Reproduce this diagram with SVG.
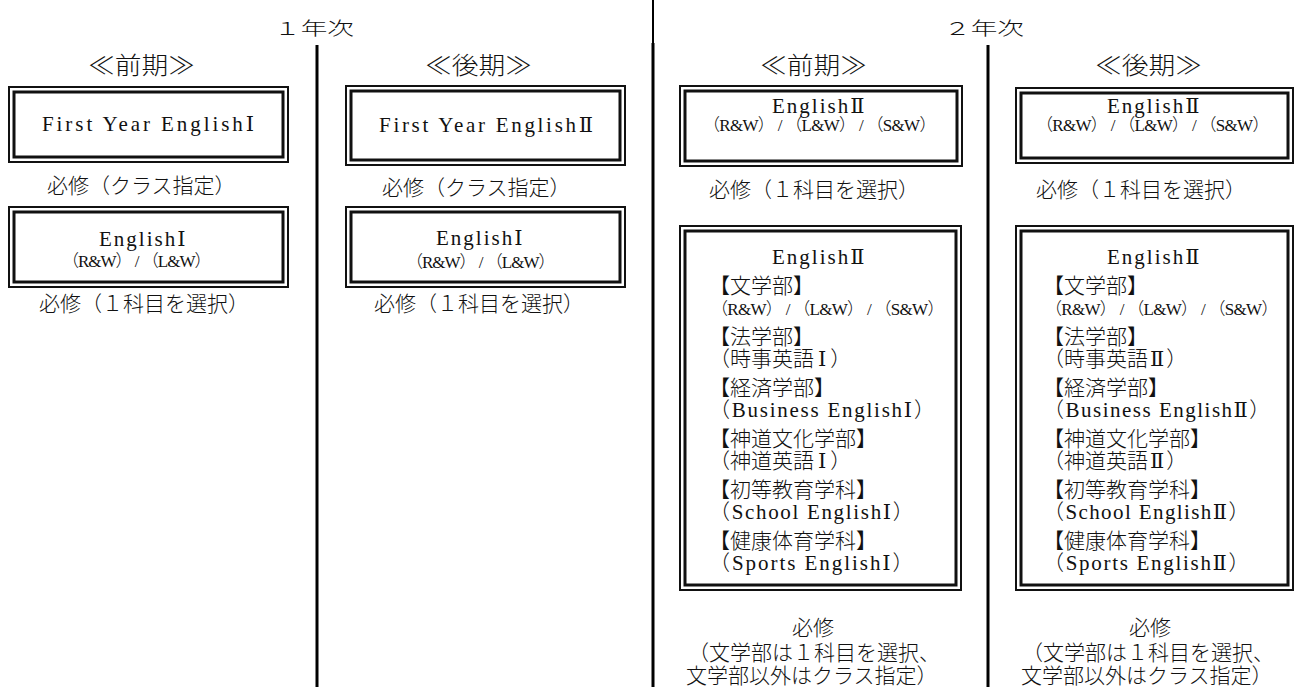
<svg xmlns="http://www.w3.org/2000/svg" width="1295" height="687" viewBox="0 0 1295 687">
<style>
.t{font-family:"Noto Sans CJK JP",sans-serif;font-size:21px;font-weight:300;fill:#111}
.l{font-family:"Liberation Serif","DejaVu Serif","Noto Sans CJK JP",serif}
.s{font-size:17px}
.h{font-size:24px}
.y{font-size:18px}
.e{letter-spacing:2px}
.bo{fill:none;stroke:#111;stroke-width:2}
.bi{fill:none;stroke:#111;stroke-width:3}
.dv{stroke:#000;stroke-width:3}
</style>
<rect width="1295" height="687" fill="#fff"/>
<g id="dividers">
<line class="dv" x1="317" y1="45" x2="317" y2="687"/>
<line class="dv" x1="653" y1="0" x2="653" y2="43" style="stroke-width:2"/>
<line class="dv" x1="653" y1="43" x2="653" y2="687"/>
<line class="dv" x1="988" y1="45" x2="988" y2="687"/>
</g>
<g id="headers">
<text class="t y" x="274" y="35" textLength="80" lengthAdjust="spacingAndGlyphs">１年次</text>
<text class="t y" x="944" y="35" textLength="80" lengthAdjust="spacingAndGlyphs">２年次</text>
<text class="t h" x="88" y="74" textLength="107" lengthAdjust="spacingAndGlyphs">≪前期≫</text>
<text class="t h" x="425" y="74" textLength="107" lengthAdjust="spacingAndGlyphs">≪後期≫</text>
<text class="t h" x="760" y="74" textLength="107" lengthAdjust="spacingAndGlyphs">≪前期≫</text>
<text class="t h" x="1095" y="74" textLength="107" lengthAdjust="spacingAndGlyphs">≪後期≫</text>
</g>
<g id="y1-first-fye">
<rect class="bo" x="9" y="87" width="279" height="75"/>
<rect class="bi" x="14" y="92" width="269" height="65"/>
<text class="t l" x="42" y="131" textLength="212" lengthAdjust="spacing">First Year EnglishⅠ</text>
<text class="t" x="47" y="193">必修（クラス指定）</text>
</g>
<g id="y1-first-e1">
<rect class="bo" x="9" y="207" width="279" height="80"/>
<rect class="bi" x="14" y="212" width="269" height="70"/>
<text class="t"><tspan class="l e" x="99" y="246">EnglishⅠ</tspan><tspan class="l s" x="62" y="267" letter-spacing="-1">（R&amp;W） / （L&amp;W）</tspan></text>
<text class="t" x="39" y="311">必修（１科目を選択）</text>
</g>
<g id="y1-second-fye">
<rect class="bo" x="346" y="86" width="279" height="79"/>
<rect class="bi" x="351" y="91" width="269" height="69"/>
<text class="t l" x="379" y="132" textLength="214" lengthAdjust="spacing">First Year EnglishⅡ</text>
<text class="t" x="382" y="195">必修（クラス指定）</text>
</g>
<g id="y1-second-e1">
<rect class="bo" x="346" y="207" width="279" height="80"/>
<rect class="bi" x="351" y="212" width="269" height="70"/>
<text class="t"><tspan class="l e" x="436" y="245">EnglishⅠ</tspan><tspan class="l s" x="406" y="268" letter-spacing="-1">（R&amp;W） / （L&amp;W）</tspan></text>
<text class="t" x="374" y="311">必修（１科目を選択）</text>
</g>
<g id="y2-first-e2">
<rect class="bo" x="680" y="86" width="282" height="80"/>
<rect class="bi" x="685" y="91" width="272" height="70"/>
<text class="t"><tspan class="l e" x="772" y="113">EnglishⅡ</tspan><tspan class="l s" x="703" y="131" letter-spacing="-0.7">（R&amp;W） / （L&amp;W） / （S&amp;W）</tspan></text>
<text class="t" x="709" y="197">必修（１科目を選択）</text>
</g>
<g id="y2-first-faculty">
<rect class="bo" x="680" y="226" width="281" height="364"/>
<rect class="bi" x="685" y="231" width="271" height="354"/>
<text class="t"><tspan class="l e" x="772" y="264">EnglishⅡ</tspan><tspan x="709" y="293">【文学部】</tspan><tspan class="l s" x="711" y="315" letter-spacing="-0.7">（R&amp;W） / （L&amp;W） / （S&amp;W）</tspan><tspan x="709" y="344">【法学部】</tspan><tspan x="709" y="366">（時事英語<tspan class="l" dx="4">Ⅰ</tspan><tspan dx="4">）</tspan></tspan><tspan x="709" y="395">【経済学部】</tspan><tspan class="l" x="709" y="417" letter-spacing="1.75">（Business EnglishⅠ）</tspan><tspan x="709" y="446">【神道文化学部】</tspan><tspan x="709" y="468">（神道英語<tspan class="l" dx="4">Ⅰ</tspan><tspan dx="4">）</tspan></tspan><tspan x="709" y="497">【初等教育学科】</tspan><tspan class="l" x="709" y="519" letter-spacing="1.67">（School EnglishⅠ）</tspan><tspan x="709" y="548">【健康体育学科】</tspan><tspan class="l" x="709" y="570" letter-spacing="1.95">（Sports EnglishⅠ）</tspan></text>
<text class="t"><tspan x="813" y="635" text-anchor="middle">必修</tspan><tspan x="688" y="660">（文学部は１科目を選択、</tspan><tspan x="686" y="683">文学部以外はクラス指定）</tspan></text>
</g>
<g id="y2-second-e2">
<rect class="bo" x="1016" y="88" width="277" height="75"/>
<rect class="bi" x="1021" y="93" width="267" height="65"/>
<text class="t"><tspan class="l e" x="1107" y="113">EnglishⅡ</tspan><tspan class="l s" x="1036" y="131" letter-spacing="-0.7">（R&amp;W） / （L&amp;W） / （S&amp;W）</tspan></text>
<text class="t" x="1036" y="197">必修（１科目を選択）</text>
</g>
<g id="y2-second-faculty">
<rect class="bo" x="1016" y="226" width="277" height="364"/>
<rect class="bi" x="1021" y="231" width="267" height="354"/>
<text class="t"><tspan class="l e" x="1107" y="264">EnglishⅡ</tspan><tspan x="1043" y="293">【文学部】</tspan><tspan class="l s" x="1045" y="315" letter-spacing="-0.7">（R&amp;W） / （L&amp;W） / （S&amp;W）</tspan><tspan x="1043" y="344">【法学部】</tspan><tspan x="1043" y="366">（時事英語<tspan class="l" dx="2">Ⅱ</tspan><tspan dx="2">）</tspan></tspan><tspan x="1043" y="395">【経済学部】</tspan><tspan class="l" x="1043" y="417" letter-spacing="1.5">（Business EnglishⅡ）</tspan><tspan x="1043" y="446">【神道文化学部】</tspan><tspan x="1043" y="468">（神道英語<tspan class="l" dx="2">Ⅱ</tspan><tspan dx="2">）</tspan></tspan><tspan x="1043" y="497">【初等教育学科】</tspan><tspan class="l" x="1043" y="519" letter-spacing="1.4">（School EnglishⅡ）</tspan><tspan x="1043" y="548">【健康体育学科】</tspan><tspan class="l" x="1043" y="570" letter-spacing="1.7">（Sports EnglishⅡ）</tspan></text>
<text class="t"><tspan x="1150" y="635" text-anchor="middle">必修</tspan><tspan x="1022" y="660">（文学部は１科目を選択、</tspan><tspan x="1021" y="683">文学部以外はクラス指定）</tspan></text>
</g>
</svg>
